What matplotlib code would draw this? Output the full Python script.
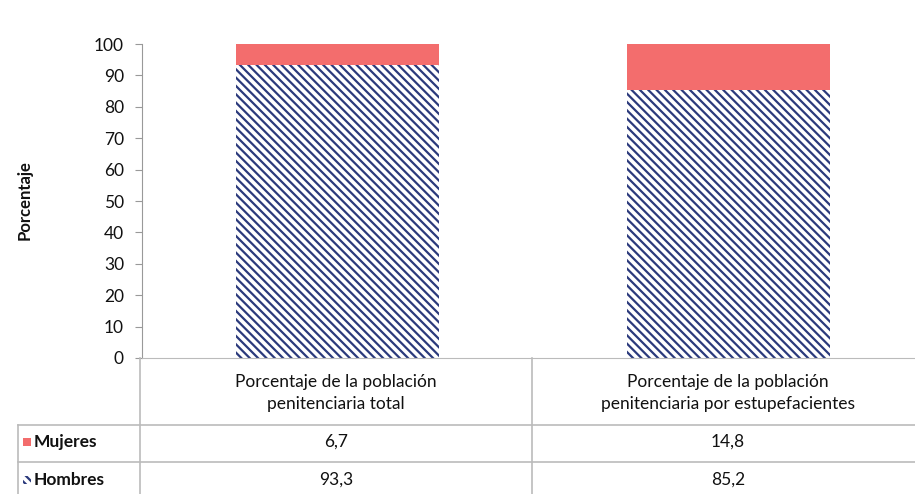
import matplotlib
matplotlib.use("Agg")
import matplotlib.pyplot as plt
from matplotlib.patches import Rectangle
from matplotlib.lines import Line2D

# ── data ────────────────────────────────────────────────────────────
categorias = ["Porcentaje de la población\npenitenciaria total",
              "Porcentaje de la población\npenitenciaria por estupefacientes"]
hombres = [93.3, 85.2]
mujeres = [6.7, 14.8]
series = ["Mujeres", "Hombres"]

plt.rcParams["font.family"] = ["Lato", "DejaVu Sans"]
plt.rcParams["hatch.linewidth"] = 1.6

W, H = 915, 494
fig = plt.figure(figsize=(W / 100, H / 100), dpi=100)

def fx(px):
    return px / W

def fy(py):
    return 1 - py / H

ax = fig.add_axes([fx(142), fy(358), fx(924) - fx(142), fy(44) - fy(358)])
x = list(range(len(categorias)))
ax.bar(x, hombres, width=0.52, color="white", edgecolor="#2b3a7c",
       hatch="\\\\\\\\", linewidth=0)
ax.bar(x, mujeres, width=0.52, bottom=hombres, color="#f36d6d",
       linewidth=0)
ax.set_xlim(-0.5, 1.5)
ax.set_ylim(0, 100)
ax.set_yticks(range(0, 101, 10))
ax.set_xticks([])
ax.tick_params(axis="y", labelsize=12.5, length=5, color="#999999",
               colors="#111111", pad=8)
for s in ["top", "right"]:
    ax.spines[s].set_visible(False)
ax.spines["left"].set_color("#999999")
ax.spines["bottom"].set_color("#bbbbbb")
fig.text(fx(25), fy(200), "Porcentaje", rotation=90, ha="center",
         va="center", fontsize=12, fontweight="bold", color="#111111")

# ── data table below the plot ───────────────────────────────────────
gris = "#bbbbbb"
col_edges = [140, 532, 924]
lines = [
    ((140, 140), (358, 494)),
    ((532, 532), (358, 494)),
    ((18, 18), (425, 494)),
    ((18, 924), (425, 425)),
    ((18, 924), (462, 462)),
]
for (x0, x1), (y0, y1) in lines:
    fig.add_artist(Line2D([fx(x0), fx(x1)], [fy(y0), fy(y1)],
                          color=gris, lw=1.2))

for i, cat in enumerate(categorias):
    cx = (col_edges[i] + col_edges[i + 1]) / 2
    fig.text(fx(cx), fy(393), cat, ha="center", va="center", fontsize=12.5,
             color="#111111", linespacing=1.45)
    fig.text(fx(cx), fy(442), f"{mujeres[i]:.1f}".replace(".", ","),
             ha="center", va="center", fontsize=12.5, color="#111111")
    fig.text(fx(cx), fy(480), f"{hombres[i]:.1f}".replace(".", ","),
             ha="center", va="center", fontsize=12.5, color="#111111")

# row headers with legend keys
fig.add_artist(Rectangle((fx(23), fy(446)), fx(8), fy(438) - fy(446),
                         facecolor="#f36d6d", edgecolor="none"))
fig.add_artist(Rectangle((fx(23), fy(484)), fx(8), fy(476) - fy(484),
                         facecolor="white", edgecolor="#2b3a7c",
                         hatch="\\\\\\\\", linewidth=0))
fig.text(fx(34), fy(442), series[0], ha="left", va="center", fontsize=12.5,
         fontweight="bold", color="#111111")
fig.text(fx(34), fy(480), series[1], ha="left", va="center", fontsize=12.5,
         fontweight="bold", color="#111111")

fig.savefig("out.png", dpi=100)
